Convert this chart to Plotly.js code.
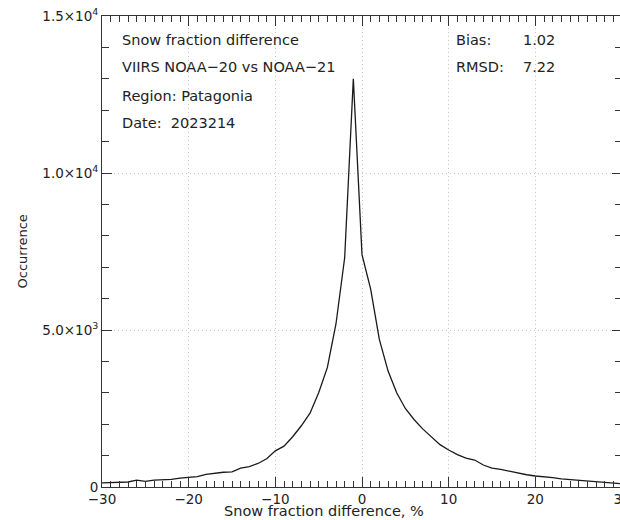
<!DOCTYPE html>
<html>
<head>
<meta charset="utf-8">
<script src="https://cdn.plot.ly/plotly-3.0.1.min.js"></script>
<style>
html,body{margin:0;padding:0;overflow:hidden;background:#fff;}
#chart{width:624px;height:520px;}
</style>
</head>
<body>
<div id="chart"></div>
<script>
// Snow fraction difference (%) bins and occurrence counts
const diffPercent = [-30,-29,-28,-27,-26,-25,-24,-23,-22,-21,-20,-19,-18,-17,-16,-15,-14,-13,-12,-11,-10,-9,-8,-7,-6,-5,-4,-3,-2,-1,0,1,2,3,4,5,6,7,8,9,10,11,12,13,14,15,16,17,18,19,20,21,22,23,24,25,26,27,28,29,30];
const occurrence = [130,140,150,160,220,180,220,230,240,280,300,330,400,440,470,480,600,650,750,900,1150,1300,1600,1950,2350,3000,3800,5200,7300,13000,7400,6300,4700,3700,3000,2500,2150,1850,1600,1350,1180,1030,920,860,700,600,560,500,440,390,350,330,300,260,240,220,200,180,160,130,100];

const yTickVals = [0, 5000, 10000, 15000];
const yTickText = ['0', '5.0×10<sup>3</sup>', '1.0×10<sup>4</sup>', '1.5×10<sup>4</sup>'];
const xTickVals = [-30, -20, -10, 0, 10, 20, 30];
const xTickText = ['−30', '−20', '−10', '0', '10', '20', '30'];

const infoLeft = ['Snow fraction difference', 'VIIRS NOAA−20 vs NOAA−21', 'Region: Patagonia', 'Date:  2023214'];
const statNames = ['Bias:', 'RMSD:'];
const statValues = ['1.02', '7.22'];

const FONT = 'DejaVu Sans, Verdana, sans-serif';
const TXT = '#222';
const FS = 13.5;
const AFS = 14.5;

const annotations = [];
const infoY = [40, 67, 96, 123];
infoLeft.forEach((t, i) => annotations.push({
  text: t, xref: 'paper', yref: 'paper', x: (120 - 102) / 520, y: 1 - (infoY[i] - 16) / 471,
  xanchor: 'left', yanchor: 'middle', showarrow: false, font: {family: FONT, size: AFS, color: TXT}
}));
statNames.forEach((t, i) => {
  annotations.push({
    text: t, xref: 'paper', yref: 'paper', x: (454 - 102) / 520, y: 1 - (infoY[i] - 16) / 471,
    xanchor: 'left', yanchor: 'middle', showarrow: false, font: {family: FONT, size: AFS, color: TXT}
  });
  annotations.push({
    text: statValues[i], xref: 'paper', yref: 'paper', x: (521 - 102) / 520, y: 1 - (infoY[i] - 16) / 471,
    xanchor: 'left', yanchor: 'middle', showarrow: false, font: {family: FONT, size: AFS, color: TXT}
  });
});
annotations.push({
  text: 'Snow fraction difference, %', xref: 'paper', yref: 'paper', x: (323.5 - 102) / 520, y: -(511 - 487) / 471,
  xanchor: 'center', yanchor: 'middle', showarrow: false, font: {family: FONT, size: AFS, color: TXT}
});
annotations.push({
  text: 'Occurrence', xref: 'paper', yref: 'paper', x: (22 - 102) / 520, y: 0.5, textangle: -90,
  xanchor: 'center', yanchor: 'middle', showarrow: false, font: {family: FONT, size: FS - 0.5, color: TXT}
});

const trace = {
  x: diffPercent, y: occurrence, type: 'scatter', mode: 'lines',
  line: {color: '#1a1a1a', width: 1.3}, hoverinfo: 'skip'
};

const axisCommon = {
  showline: true, linecolor: '#333', linewidth: 1, mirror: 'ticks',
  ticks: 'inside', tickcolor: '#333', tickwidth: 1, ticklen: 10,
  showgrid: true, gridcolor: '#c4c4c4', griddash: '1px,3px', gridwidth: 1,
  zeroline: false, ticklabeloverflow: 'allow',
  tickfont: {family: FONT, size: FS, color: TXT}
};

const layout = {
  width: 624, height: 520,
  margin: {l: 102, r: 2, t: 16, b: 33},
  paper_bgcolor: '#fff', plot_bgcolor: '#fff',
  showlegend: false,
  xaxis: Object.assign({}, axisCommon, {
    range: [-30, 30], tickmode: 'array', tickvals: xTickVals, ticktext: xTickText,
    minor: {dtick: 1, ticks: 'inside', ticklen: 6, tickcolor: '#333', showgrid: false}
  }),
  yaxis: Object.assign({}, axisCommon, {
    range: [0, 15000], tickmode: 'array', tickvals: yTickVals, ticktext: yTickText,
    minor: {dtick: 1000, ticks: 'inside', ticklen: 7, tickcolor: '#333', showgrid: false}
  }),
  annotations: annotations
};

Plotly.newPlot('chart', [trace], layout, {staticPlot: true, displayModeBar: false});
</script>
</body>
</html>
